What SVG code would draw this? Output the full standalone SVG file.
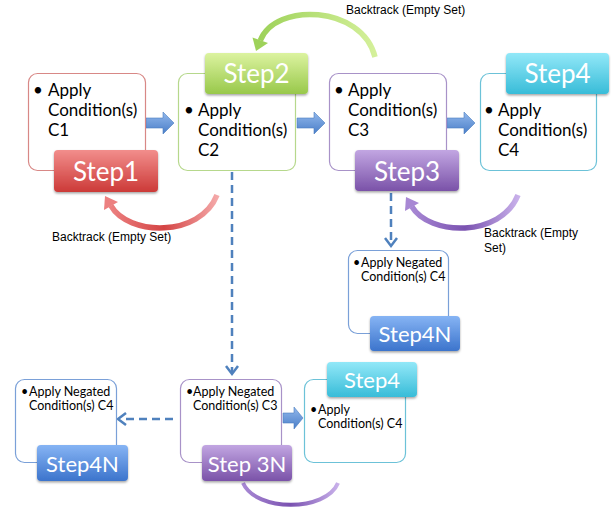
<svg xmlns="http://www.w3.org/2000/svg" width="611" height="508" viewBox="0 0 611 508">
<defs>
<style>
.box{fill:#fff;stroke-width:1.2}
.body{font-family:Lato,"Open Sans","Liberation Sans",sans-serif;font-size:17px;fill:#000}
.small{font-family:Lato,"Open Sans","Liberation Sans",sans-serif;font-size:12.5px;fill:#000}
.lbl{font-family:Lato,"Open Sans","Liberation Sans",sans-serif;font-size:26px;fill:#fff;text-anchor:middle}
.lbls{font-family:Lato,"Open Sans","Liberation Sans",sans-serif;font-size:22px;fill:#fff;text-anchor:middle}
.note{font-family:"Liberation Sans",Arial,sans-serif;font-size:12px;fill:#000}
.dash{fill:none;stroke:#4f81bd;stroke-width:2.5;stroke-dasharray:8 5}
.chev{fill:none;stroke:#4f81bd;stroke-width:2.5}
.blk{fill:url(#gBlk);stroke:#4a7ec0;stroke-width:0.6}
</style>
<linearGradient id="gRed" x1="0" y1="0" x2="0" y2="1"><stop offset="0" stop-color="#f28e8c"/><stop offset="1" stop-color="#cc3a38"/></linearGradient>
<linearGradient id="gGreen" x1="0" y1="0" x2="0" y2="1"><stop offset="0" stop-color="#dcf3a0"/><stop offset="1" stop-color="#98c84a"/></linearGradient>
<linearGradient id="gPurple" x1="0" y1="0" x2="0" y2="1"><stop offset="0" stop-color="#c2a6e2"/><stop offset="1" stop-color="#7a52a8"/></linearGradient>
<linearGradient id="gCyan" x1="0" y1="0" x2="0" y2="1"><stop offset="0" stop-color="#92e8f8"/><stop offset="1" stop-color="#38bcd8"/></linearGradient>
<linearGradient id="gBlue" x1="0" y1="0" x2="0" y2="1"><stop offset="0" stop-color="#86b4f4"/><stop offset="1" stop-color="#3c74cc"/></linearGradient>
<linearGradient id="gBlk" x1="0" y1="0" x2="0" y2="1"><stop offset="0" stop-color="#92b8ec"/><stop offset="1" stop-color="#4a7ec8"/></linearGradient>
<linearGradient id="aGreen" x1="0" y1="0" x2="1" y2="0"><stop offset="0" stop-color="#9ed25a"/><stop offset="1" stop-color="#d4f09a"/></linearGradient>
<linearGradient id="aRed" x1="0" y1="0" x2="1" y2="0"><stop offset="0" stop-color="#ec8080"/><stop offset="0.5" stop-color="#d44444"/><stop offset="1" stop-color="#f4a8a8"/></linearGradient>
<linearGradient id="aPurple" x1="0" y1="0" x2="1" y2="0"><stop offset="0" stop-color="#a888d4"/><stop offset="0.5" stop-color="#7a52b0"/><stop offset="1" stop-color="#c8b0ea"/></linearGradient>
<filter id="sh" x="-10%" y="-10%" width="125%" height="140%"><feDropShadow dx="0" dy="1.5" stdDeviation="1.2" flood-color="#000" flood-opacity="0.35"/></filter>
</defs>
<rect width="611" height="508" fill="#fff"/>

<g id="connectors">
  <path class="blk" d="M146,118 H163 V112 L174,123 L163,134 V128 H146 Z"/>
  <path class="blk" d="M297,118 H314 V112 L325,123 L314,134 V128 H297 Z"/>
  <path class="blk" d="M447,118 H464 V112 L475,123 L464,134 V128 H447 Z"/>
  <path class="blk" d="M283,413 H294 V407 L303,418 L294,429 V423 H283 Z"/>
  <path class="dash" d="M232,172 V372"/>
  <path class="chev" d="M226,366 L232,374 L238,366"/>
  <path class="dash" d="M391,193 V243"/>
  <path class="chev" d="M385,238 L391,246 L397,238"/>
  <path class="dash" d="M173,419 H121"/>
  <path class="chev" d="M126,413 L118,419 L126,425"/>
  <path d="M375,57 C362,5 275,2 260.3,40.6" fill="none" stroke="url(#aGreen)" stroke-width="5.5"/>
  <polygon points="256,51 268,43 252.5,37.5" fill="#9ed25a"/>
  <path d="M217,195 C200,238 128,236 110.9,205.7" fill="none" stroke="url(#aRed)" stroke-width="5.5"/>
  <polygon points="105,196 118,202 104,210" fill="#ec8080"/>
  <path d="M518,195 C501,238 429,236 411.9,206.7" fill="none" stroke="url(#aPurple)" stroke-width="5.5"/>
  <polygon points="406,197 419,203 405,211" fill="#a888d4"/>
  <path d="M338,483 C326,512 256,512 243,483" fill="none" stroke="url(#aPurple)" stroke-width="4"/>
  <text class="note" x="346" y="14">Backtrack (Empty Set)</text>
  <text class="note" x="52" y="241">Backtrack (Empty Set)</text>
  <text class="note" x="484" y="237">Backtrack (Empty</text>
  <text class="note" x="484" y="252">Set)</text>
</g>

<g id="step1">
  <rect class="box" x="28.5" y="73.5" width="117" height="97" rx="9" stroke="#d88886"/>
  <text class="body" x="33" y="96">•</text>
  <text class="body"><tspan x="48" y="96">Apply</tspan><tspan x="48" y="116">Condition(s)</tspan><tspan x="48" y="136">C1</tspan></text>
  <rect x="54" y="150" width="104" height="42" rx="4" fill="url(#gRed)" filter="url(#sh)"/>
  <text class="lbl" x="106" y="181">Step1</text>
</g>

<g id="step2">
  <rect class="box" x="178.5" y="73.5" width="117" height="97" rx="9" stroke="#b6d88c"/>
  <text class="body" x="184" y="116">•</text>
  <text class="body"><tspan x="198" y="116">Apply</tspan><tspan x="198" y="136">Condition(s)</tspan><tspan x="198" y="156">C2</tspan></text>
  <rect x="205" y="53" width="103" height="41" rx="4" fill="url(#gGreen)" filter="url(#sh)"/>
  <text class="lbl" x="256.5" y="83">Step2</text>
</g>

<g id="step3">
  <rect class="box" x="329.5" y="73.5" width="117" height="97" rx="9" stroke="#a892c8"/>
  <text class="body" x="334" y="96">•</text>
  <text class="body"><tspan x="348" y="96">Apply</tspan><tspan x="348" y="116">Condition(s)</tspan><tspan x="348" y="136">C3</tspan></text>
  <rect x="355" y="150" width="104" height="41" rx="4" fill="url(#gPurple)" filter="url(#sh)"/>
  <text class="lbl" x="407" y="181">Step3</text>
</g>

<g id="step4">
  <rect class="box" x="480.5" y="73.5" width="116" height="97" rx="9" stroke="#6cc2d8"/>
  <text class="body" x="484" y="116">•</text>
  <text class="body"><tspan x="498" y="116">Apply</tspan><tspan x="498" y="136">Condition(s)</tspan><tspan x="498" y="156">C4</tspan></text>
  <rect x="506" y="53" width="103" height="41" rx="4" fill="url(#gCyan)" filter="url(#sh)"/>
  <text class="lbl" x="557.5" y="83">Step4</text>
</g>

<g id="step4n-upper">
  <rect class="box" x="348.5" y="250.5" width="100" height="83" rx="9" stroke="#7aa0d8"/>
  <text class="small"><tspan x="353" y="267">•</tspan><tspan x="361" y="267">Apply Negated</tspan><tspan x="361" y="281">Condition(s) C4</tspan></text>
  <rect x="370" y="316" width="90" height="35" rx="4" fill="url(#gBlue)" filter="url(#sh)"/>
  <text class="lbls" x="415" y="342">Step4N</text>
</g>

<g id="step4-lower">
  <rect class="box" x="304.5" y="379.5" width="101" height="83" rx="9" stroke="#6cc2d8"/>
  <text class="small"><tspan x="310" y="414">•</tspan><tspan x="318" y="414">Apply</tspan><tspan x="318" y="428">Condition(s) C4</tspan></text>
  <rect x="327" y="362" width="90" height="35" rx="4" fill="url(#gCyan)" filter="url(#sh)"/>
  <text class="lbls" x="372" y="388">Step4</text>
</g>

<g id="step4n-lower">
  <rect class="box" x="15.5" y="379.5" width="101" height="83" rx="9" stroke="#7aa0d8"/>
  <text class="small"><tspan x="21" y="396">•</tspan><tspan x="29" y="396">Apply Negated</tspan><tspan x="29" y="410">Condition(s) C4</tspan></text>
  <rect x="37" y="445" width="91" height="36" rx="4" fill="url(#gBlue)" filter="url(#sh)"/>
  <text class="lbls" x="82.5" y="472">Step4N</text>
</g>

<g id="step3n">
  <rect class="box" x="180.5" y="379.5" width="101" height="83" rx="9" stroke="#a892c8"/>
  <text class="small"><tspan x="186" y="396">•</tspan><tspan x="193" y="396">Apply Negated</tspan><tspan x="193" y="410">Condition(s) C3</tspan></text>
  <rect x="202" y="445" width="90" height="36" rx="4" fill="url(#gPurple)" filter="url(#sh)"/>
  <text class="lbls" x="247" y="472">Step 3N</text>
</g>
</svg>
